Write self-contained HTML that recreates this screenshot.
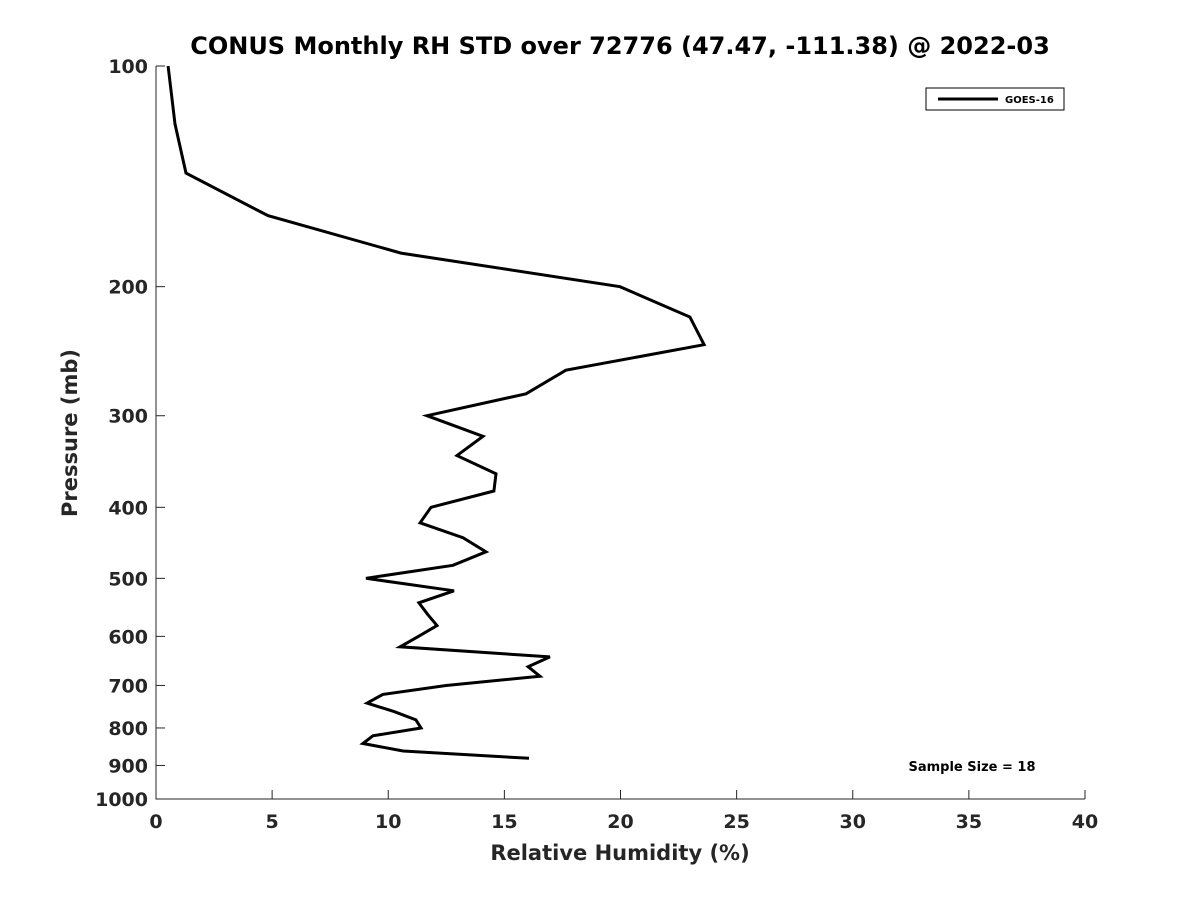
<!DOCTYPE html>
<html><head><meta charset="utf-8"><style>
body{margin:0;background:#fff;font-family:"Liberation Sans","DejaVu Sans",sans-serif}
svg text{font-family:"DejaVu Sans","Liberation Sans",sans-serif;font-weight:bold;fill:#262626}
</style></head><body>
<svg id="chart" width="1200" height="900">
<rect width="1200" height="900" fill="#fff"/>
<text x="620" y="54" font-size="24" text-anchor="middle" fill="#000" style="fill:#000">CONUS Monthly RH STD over 72776 (47.47, -111.38) @ 2022-03</text>
<g id="axes"></g>
<text x="620" y="860" font-size="21" text-anchor="middle">Relative Humidity (%)</text>
<text transform="translate(77,433) rotate(-90)" font-size="21" text-anchor="middle">Pressure (mb)</text>
<g>
<rect x="926" y="88" width="138" height="22" fill="#fff" stroke="#000" stroke-width="1"/>
<line x1="938" y1="99" x2="998" y2="99" stroke="#000" stroke-width="3"/>
<text x="1005" y="103" font-size="10" style="fill:#000">GOES-16</text>
</g>
<text x="972" y="771" font-size="13" text-anchor="middle" style="fill:#000">Sample Size = 18</text>
</svg>
<script>
const pressures=[100,120,140,160,180,200,220,240,260,280,300,320,340,360,380,400,420,440,460,480,500,520,540,560,580,600,620,640,660,680,700,720,740,760,780,800,820,840,860,880];
const rhStd=[0.52,0.82,1.29,4.82,10.55,19.98,22.99,23.6,17.65,15.93,11.67,14.08,12.96,14.64,14.55,11.84,11.37,13.22,14.21,12.79,9.04,12.83,11.32,11.7,12.1,11.3,10.51,16.96,16.02,16.53,12.49,9.77,9.09,10.25,11.19,11.41,9.34,8.91,10.64,16.06];
const xTicks=[0,5,10,15,20,25,30,35,40];
const yTicks=[100,200,300,400,500,600,700,800,900,1000];
const X0=156,X1=1085,Y0=66,Y1=799;
const xs=v=>X0+(v-0)/(40-0)*(X1-X0);
const ys=p=>Y0+Math.log10(p/100)*(Y1-Y0);
const ns="http://www.w3.org/2000/svg";
const svg=document.getElementById('chart');
const g=document.getElementById('axes');
function mk(t,a){const e=document.createElementNS(ns,t);for(const k in a)e.setAttribute(k,a[k]);return e;}
const ax=mk('path',{d:`M${X0},${Y0}V${Y1}H${X1}`,fill:'none',stroke:'#262626','stroke-width':1});


g.appendChild(ax);
xTicks.forEach(v=>{
 const x=xs(v);
 const l=mk('line',{x1:x,x2:x,y1:Y1,y2:Y1-9,stroke:'#262626'});
 
 
 g.appendChild(l);
 const t=mk('text',{x:x,y:Y1+29,'font-size':19,'text-anchor':'middle'});
 t.textContent=v;
 
 
 g.appendChild(t);
});
yTicks.forEach(p=>{
 const y=ys(p);
 const l=mk('line',{x1:X0,x2:X0+9,y1:y,y2:y,stroke:'#262626'});
 
 
 g.appendChild(l);
 const t=mk('text',{x:X0-8,y:y+7,'font-size':19,'text-anchor':'end'});
 t.textContent=p;
 
 
 g.appendChild(t);
});
const d=pressures.map((p,i)=>(i?'L':'M')+xs(rhStd[i]).toFixed(1)+','+ys(p).toFixed(1)).join('');
const line=mk('path',{d:d,fill:'none',stroke:'#000','stroke-width':3,'stroke-linejoin':'miter'});


svg.appendChild(line);
</script>
</body></html>
